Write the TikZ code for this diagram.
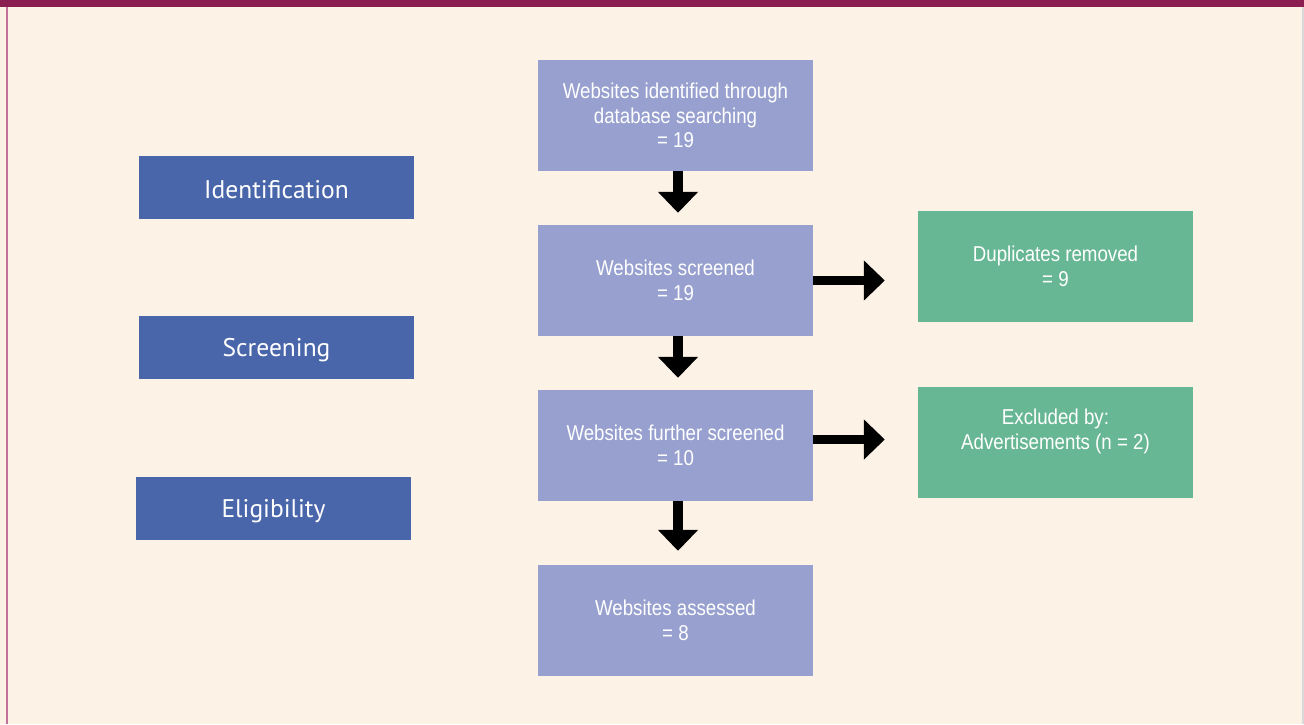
\documentclass[tikz,border=0pt]{standalone}
\usepackage{fontspec}
\setmainfont{Liberation Sans}
\newfontfamily\condfont[FakeStretch=0.87]{Liberation Sans}
\newfontfamily\labfont{PT Sans}
\usetikzlibrary{arrows.meta}
\definecolor{bgcream}{HTML}{FCF3E6}
\definecolor{topbar}{HTML}{8B1E50}
\definecolor{leftline}{HTML}{C2709C}
\definecolor{phase}{HTML}{4A66AA}
\definecolor{flow}{HTML}{97A0CE}
\definecolor{side}{HTML}{68B794}
\tikzset{
  phasebox/.style={fill=phase, minimum width=275pt, minimum height=63pt, inner sep=0pt},
  phasetext/.style={text=white, inner sep=0pt, font=\labfont\fontsize{25.5}{29}\selectfont},
  flowbox/.style={fill=flow, text=white, minimum width=275pt, minimum height=111pt, inner sep=0pt, align=center, font=\condfont\fontsize{21.5}{24.5}\selectfont},
  sidebox/.style={fill=side, minimum width=275pt, minimum height=111pt, inner sep=0pt},
  sidetext/.style={text=white, inner sep=0pt, align=center, font=\condfont\fontsize{21.5}{24.5}\selectfont},
  bigarrow/.style={line width=9.5pt, -{Triangle[width=39pt,length=21pt]}}
}
\begin{document}
\begin{tikzpicture}[x=1pt,y=-1pt]
\useasboundingbox (0,0) rectangle (1304,724);
\fill[bgcream] (0,0) rectangle (1304,724);
\fill[topbar] (0,0) rectangle (1304,7);
\fill[leftline] (6,7) rectangle (8,724);
\fill[black!15] (1302,7) rectangle (1304,724);
% phase labels
\node[phasebox] (id) at (276.5,187.5) {};
\node[phasetext] (idt) at ([yshift=-2.5pt]id.center) {Identification};
\node[phasebox] (sc) at (276.5,347.5) {};
\node[phasetext] (sct) at ([yshift=-2.5pt]sc.center) {Screening};
\node[phasebox] (el) at (273.5,508.5) {};
\node[phasetext] (elt) at ([yshift=-2.5pt]el.center) {Eligibility};
% flow boxes
\node[flowbox] (b1) at (675.5,115.5) {Websites identified through\\database searching\\= 19};
\node[flowbox] (b2) at (675.5,280.5) {Websites screened\\= 19};
\node[flowbox] (b3) at (675.5,445.5) {Websites further screened\\= 10};
\node[flowbox] (b4) at (675.5,620.5) {Websites assessed\\= 8};
% side boxes
\node[sidebox] (d1) at (1055.5,266.5) {};
\node[sidetext] (d1t) at (d1.center) {Duplicates removed\\= 9};
\node[sidebox] (d2) at (1055.5,442.5) {};
\node[sidetext] (d2t) at ([yshift=11pt]d2.center) {Excluded by:\\Advertisements (n = 2)};
% arrows
\draw[bigarrow, shorten >=12pt] ([xshift=2.5pt]b1.south) -- ([xshift=2.5pt]b2.north);
\draw[bigarrow, shorten >=12pt] ([xshift=2.5pt]b2.south) -- ([xshift=2.5pt]b3.north);
\draw[bigarrow, shorten >=14pt] ([xshift=2.5pt]b3.south) -- ([xshift=2.5pt]b4.north);
\draw[bigarrow, shorten >=33pt] (b2.east) -- (b2.east -| d1.west);
\draw[bigarrow, shorten >=33pt] ([yshift=6pt]b3.east) -- ([yshift=6pt]b3.east -| d2.west);
\end{tikzpicture}
\end{document}
